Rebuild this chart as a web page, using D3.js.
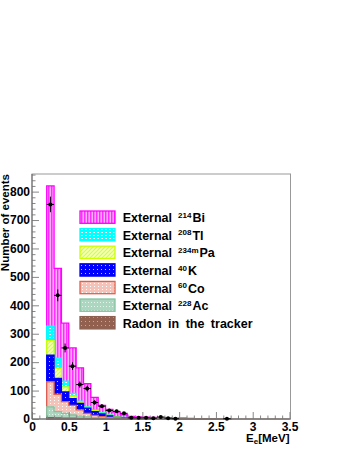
<!DOCTYPE html>
<html>
<head>
<meta charset="UTF-8">
<title>Energy spectrum with external backgrounds</title>
<script type="text/javascript" src="https://cdnjs.cloudflare.com/ajax/libs/d3/7.8.5/d3.min.js"></script>
<style>
body { margin:0; background:#fff; }
text { font-family:"Liberation Sans", Arial, sans-serif; font-weight:bold; }
.tick text { font-size:12px; fill:#000; }
.tick line { stroke:#888; }
</style>
</head>
<body>
<div id="chart"></div>
<script type="text/javascript">
// bins of 0.1 MeV, low edges
var binLow = [0.2,0.3,0.4,0.5,0.6,0.7,0.8,0.9,1.0,1.1,1.2,1.3,1.4,1.5,1.6,1.7,1.8,1.9,2.0,2.1,2.2,2.3,2.4,2.5,2.6];
// components, bottom of the stack first
var radon = [5,4,3,3,2,1,1,1,1,1,1,0.5,0.5,0.5,0.3,0.3,0.3,0.2,0.2,0.1,0.1,0.1,0.1,0.1,0.1];
var ac228 = [38,22,17,11,8,6,4,3,2,2,1,0.5,0.5,0.3,0.3,0.2,0.2,0.2,0.2,0.1,0.1,0,0,0,0];
var co60  = [88,61,41,34,22,13,8,4,3,1,0.5,0.3,0,0,0,0,0,0,0,0,0,0,0,0,0];
var k40   = [94,56,34,24,23,18,13,10,5,2,1.5,1,0.5,0.2,0.1,0,0,0,0,0,0,0,0,0,0];
var pa234 = [51,35,18,8,4,3,3,2,1.5,1,0.5,0.3,0.2,0.2,0.1,0.1,0.1,0,0,0,0,0,0,0,0];
var tl208 = [51,36,20,10,4,2,3,2,1.5,1,1.5,1.5,2,2,2,2,2,2,3,1,0.5,0.4,0.5,0.5,0.5];
var bi214 = [493,316,204,160,117,81,44,26,20,16,9,5,3.5,3,3,2.5,1.5,1,0.5,0.5,0.3,0.3,0.2,0.1,0.1];
// measured data
var dataX = [0.25,0.35,0.45,0.55,0.65,0.75,0.85,0.95,1.05,1.15,1.25,1.35,1.45,1.55,1.65,1.75,1.85,1.95,2.65];
var dataY = [755,435,250,186,121,107,58,45,30,27,20,4,4,4,3,7,3,1,1];
var yTicks = [0,100,200,300,400,500,600,700,800];
var xTicks = [0,0.5,1,1.5,2,2.5,3,3.5];

var width=349, height=451;
var svg=d3.select("#chart").append("svg").attr("width",width).attr("height",height);
var x=d3.scaleLinear().domain([0,3.5]).range([32,289.5]);
var y=d3.scaleLinear().domain([0,862]).range([419,174]);

var comps=[
  {name:"radon", vals:radon, line:"#8d5f4f", pat:"pRn"},
  {name:"ac", vals:ac228, line:"#86c2a0", pat:"pAc"},
  {name:"co", vals:co60, line:"#e4604a", pat:"pCo"},
  {name:"k", vals:k40, line:"#0000ff", pat:"pK"},
  {name:"pa", vals:pa234, line:"#ccff00", pat:"pPa"},
  {name:"tl", vals:tl208, line:"#00ffff", pat:"pTl"},
  {name:"bi", vals:bi214, line:"#ff00ff", pat:"pBi"}
];

// fill patterns
var defs=svg.append("defs");
function pat(id,w,h,bg){
  var p=defs.append("pattern").attr("id",id).attr("patternUnits","userSpaceOnUse").attr("width",w).attr("height",h);
  p.append("rect").attr("width",w).attr("height",h).attr("fill",bg);
  return p;
}
pat("pBi",3,3,"#ffb0ff").append("rect").attr("width",1.5).attr("height",3).attr("fill","#ff30ff");
pat("pTl",4,3,"#00ffff").append("rect").attr("x",1).attr("y",1).attr("width",2).attr("height",1).attr("fill","#fff");
var pp=pat("pPa",4,4,"#f6ffc8");
pp.append("path").attr("d","M0,4L4,0M-1,1L1,-1M3,5L5,3").attr("stroke","#d4ff30").attr("stroke-width",1.2);
pat("pK",4,4,"#0000ff").append("rect").attr("x",1).attr("y",1).attr("width",1).attr("height",1).attr("fill","#bbbbff");
pat("pCo",4,3,"#f3c2b8").append("rect").attr("x",2).attr("y",1).attr("width",1).attr("height",1).attr("fill","#fff");
pat("pAc",3,4,"#acd6bf").append("rect").attr("x",1).attr("y",2).attr("width",1).attr("height",1).attr("fill","#e4f4ea");
pat("pRn",4,4,"#93604f").append("rect").attr("x",1).attr("y",1).attr("width",1).attr("height",1).attr("fill","#c9a596");

// cumulative sums
var cum=[], run=binLow.map(function(){return 0;});
comps.forEach(function(c){
  run=run.map(function(v,i){return v+c.vals[i];});
  cum.push(run.slice());
});

function stepPath(vals){
  var p="M"+x(binLow[0])+","+y(0);
  binLow.forEach(function(b,i){
    p+="L"+x(b)+","+y(vals[i])+"L"+x(b+0.1)+","+y(vals[i]);
  });
  p+="L"+x(binLow[binLow.length-1]+0.1)+","+y(0)+"Z";
  return p;
}

// draw from the top of the stack downwards
for(var j=comps.length-1;j>=0;j--){
  svg.append("path").attr("d",stepPath(cum[j]))
    .attr("fill","url(#"+comps[j].pat+")")
    .attr("stroke",comps[j].line).attr("stroke-width",1.3);
}
svg.append("line").attr("x1",x(0.2)).attr("x2",x(3.5)).attr("y1",y(0)).attr("y2",y(0)).attr("stroke","#8d5f4f").attr("stroke-width",1.2);

// frame
svg.append("rect").attr("x",32).attr("y",174).attr("width",258.5).attr("height",245)
  .attr("fill","none").attr("stroke","#999").attr("stroke-width",1);

// axes
var yMinor=d3.range(0,862,20).filter(function(v){return v%100!==0;});
svg.append("g").attr("transform","translate(32,0)")
  .call(d3.axisLeft(y).tickValues(yMinor).tickSize(-3.5).tickFormat(""))
  .call(function(g){g.select(".domain").remove();});
svg.append("g").attr("transform","translate(32,0)")
  .call(d3.axisLeft(y).tickValues(yTicks).tickSize(-7).tickPadding(2).tickFormat(d3.format("d")))
  .call(function(g){g.select(".domain").remove();});

var xMinor=d3.range(0,3.51,0.1).filter(function(v){return Math.abs(v*2-Math.round(v*2))>0.01;});
svg.append("g").attr("transform","translate(0,419)")
  .call(d3.axisBottom(x).tickValues(xMinor).tickSize(-3.5).tickFormat(""))
  .call(function(g){g.select(".domain").remove();});
svg.append("g").attr("transform","translate(0,419)")
  .call(d3.axisBottom(x).tickValues(xTicks).tickSize(-7).tickPadding(3).tickFormat(function(d){return d3.format("")(d);}))
  .call(function(g){g.select(".domain").remove();});

svg.append("line").attr("x1",32).attr("x2",32).attr("y1",174).attr("y2",419).attr("stroke","#666");
svg.append("line").attr("x1",32).attr("x2",290.5).attr("y1",419).attr("y2",419).attr("stroke","#666");

// data points
var pts=svg.append("g");
dataX.forEach(function(d,i){
  var n=dataY[i], e=Math.sqrt(n);
  pts.append("line").attr("x1",x(d)).attr("x2",x(d)).attr("y1",y(n+e)).attr("y2",y(Math.max(0,n-e))).attr("stroke","#000").attr("stroke-width",1);
  pts.append("line").attr("x1",x(d-0.05)).attr("x2",x(d+0.05)).attr("y1",y(n)).attr("y2",y(n)).attr("stroke","#000").attr("stroke-width",1);
  pts.append("circle").attr("cx",x(d)).attr("cy",y(n)).attr("r",2).attr("fill","#000");
});

// titles
svg.append("text").attr("transform","translate(9,174) rotate(-90)").attr("text-anchor","end")
  .style("font-size","11.5px").text("Number of events");
var xt=svg.append("text").attr("x",289.5).attr("y",442).attr("text-anchor","end").style("font-size","11.5px");
xt.append("tspan").text("E");
xt.append("tspan").attr("dy",2).style("font-size","8px").text("e");
xt.append("tspan").attr("dy",-2).text("[MeV]");

// legend
var legPre=["External","External","External","External","External","External","Radon in the tracker"];
var legSup=["214","208","234m","40","60","228",""];
var legPost=["Bi","Tl","Pa","K","Co","Ac",""];
var legOrder=[6,5,4,3,2,1,0];
legOrder.forEach(function(ci,i){
  var top=211+i*17.6;
  svg.append("rect").attr("x",80).attr("y",top).attr("width",35).attr("height",12.3)
    .attr("fill","url(#"+comps[ci].pat+")").attr("stroke",comps[ci].line).attr("stroke-width",1.3);
  var t=svg.append("text").attr("x",122.7).attr("y",top+11.2).style("font-size","12.5px");
  if(legSup[i]){
    t.append("tspan").text(legPre[i]);
    t.append("tspan").attr("dx",6).attr("dy",-4.5).style("font-size","8px").text(legSup[i]);
    t.append("tspan").attr("dx",1).attr("dy",4.5).text(legPost[i]);
  } else {
    t.style("word-spacing","3px").text(legPre[i]);
  }
});
</script>
</body>
</html>
